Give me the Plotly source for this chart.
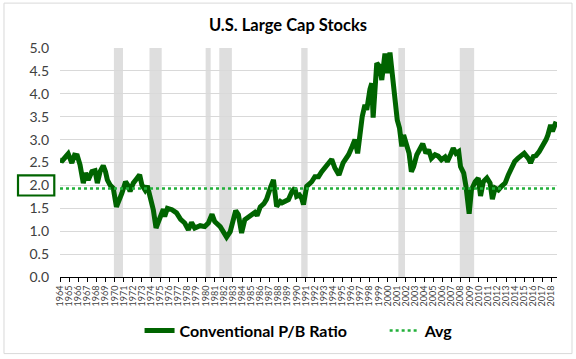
import plotly.graph_objects as go

# ---------------- data ----------------
years = [1964.0, 1964.25, 1964.6, 1964.9, 1965.3, 1965.6, 1965.9, 1966.2, 1966.56, 1966.8,
         1967.1, 1967.5, 1967.85, 1968.1, 1968.4, 1968.75, 1969.0, 1969.2, 1969.5, 1969.85,
         1970.2, 1970.5, 1970.8, 1971.2, 1971.5, 1971.7, 1972.05, 1972.4, 1972.75, 1973.0,
         1973.35, 1973.6, 1973.9, 1974.25, 1974.55, 1974.8, 1975.0, 1975.35, 1975.5, 1975.8,
         1976.3, 1976.8, 1977.25, 1977.7, 1978.1, 1978.45, 1978.8, 1979.4, 1979.9, 1980.3,
         1980.7, 1981.0, 1981.6, 1981.9, 1982.3, 1982.7, 1983.0, 1983.3, 1983.6, 1983.95,
         1984.3, 1984.7, 1985.05, 1985.4, 1985.65, 1986.0, 1986.4, 1986.7, 1987.1, 1987.45,
         1987.8, 1988.2, 1988.4, 1989.1, 1989.5, 1989.8, 1990.0, 1990.3, 1990.55, 1990.75,
         1991.1, 1991.65, 1992.0, 1992.4, 1992.75, 1993.3, 1993.85, 1994.2, 1994.65, 1995.1,
         1995.7, 1996.1, 1996.4, 1996.7, 1996.95, 1997.2, 1997.5, 1997.7, 1998.05, 1998.25,
         1998.4, 1998.6, 1998.8, 1999.1, 1999.35, 1999.7, 1999.95, 2000.25, 2000.5, 2000.8,
         2001.05, 2001.3, 2001.55, 2001.75, 2002.05, 2002.35, 2002.6, 2002.85, 2003.2, 2003.55,
         2003.85, 2004.2, 2004.5, 2004.8, 2005.2, 2005.55, 2005.9, 2006.3, 2006.55, 2006.9,
         2007.2, 2007.5, 2007.8, 2008.0, 2008.35, 2008.6, 2008.75, 2008.95, 2009.2, 2009.6,
         2009.95, 2010.2, 2010.5, 2010.9, 2011.25, 2011.5, 2011.8, 2012.15, 2012.5, 2012.9,
         2013.25, 2013.6, 2013.95, 2014.3, 2014.7, 2015.0, 2015.45, 2015.7, 2016.0, 2016.3,
         2016.65, 2017.0, 2017.4, 2017.6, 2017.9, 2018.1, 2018.5]

pb_ratio = [2.55, 2.54, 2.62, 2.69, 2.49, 2.66, 2.65, 2.45, 2.05, 2.27,
            2.12, 2.30, 2.32, 2.05, 2.30, 2.43, 2.30, 2.12, 2.01, 1.94,
            1.53, 1.67, 1.83, 2.08, 1.99, 1.87, 2.05, 2.14, 2.23, 2.01,
            1.90, 1.99, 1.76, 1.47, 1.07, 1.22, 1.34, 1.48, 1.32, 1.50,
            1.47, 1.40, 1.26, 1.18, 1.03, 1.19, 1.07, 1.12, 1.10, 1.18,
            1.37, 1.21, 1.10, 0.99, 0.87, 0.99, 1.25, 1.45, 1.36, 0.96,
            1.25, 1.31, 1.34, 1.41, 1.34, 1.53, 1.60, 1.70, 1.94, 2.12,
            1.54, 1.65, 1.62, 1.69, 1.87, 1.94, 1.76, 1.79, 1.72, 1.58,
            1.98, 2.08, 2.19, 2.19, 2.30, 2.43, 2.57, 2.38, 2.23, 2.49,
            2.67, 2.85, 3.00, 2.70, 3.14, 3.50, 3.76, 3.65, 4.10, 4.23,
            3.48, 4.30, 4.67, 4.60, 4.30, 4.88, 4.45, 4.90, 4.37, 3.87,
            3.43, 3.25, 2.85, 3.10, 2.92, 2.70, 2.30, 2.41, 2.67, 2.78,
            2.91, 2.70, 2.78, 2.59, 2.67, 2.64, 2.56, 2.62, 2.52, 2.67,
            2.81, 2.70, 2.74, 2.41, 2.27, 1.98, 1.65, 1.38, 1.90, 2.08,
            2.16, 1.77, 2.08, 2.16, 2.05, 1.70, 1.94, 1.90, 1.98, 2.05,
            2.23, 2.40, 2.52, 2.59, 2.67, 2.70, 2.59, 2.49, 2.63, 2.65,
            2.74, 2.85, 3.00, 3.10, 3.32, 3.18, 3.39]

avg_value = 1.93
avg_span = [1964.0, 2018.6]

recession_start = [1969.92, 1973.83, 1980.0, 1981.5, 1990.5, 2001.17, 2007.92]
recession_end = [1970.92, 1975.17, 1980.55, 1982.88, 1991.2, 2001.9, 2009.5]

tick_years = [1964, 1965, 1966, 1967, 1968, 1969, 1970, 1971, 1972, 1973, 1974, 1975,
              1976, 1977, 1978, 1979, 1980, 1981, 1982, 1983, 1984, 1985, 1986, 1987,
              1988, 1989, 1990, 1991, 1992, 1993, 1994, 1995, 1996, 1997, 1998, 1999,
              2000, 2001, 2002, 2003, 2004, 2005, 2006, 2007, 2008, 2009, 2010, 2011,
              2012, 2013, 2014, 2015, 2016, 2017, 2018]
tick_labels = [str(y) for y in tick_years]

y_ticks = [0.0, 0.5, 1.0, 1.5, 2.0, 2.5, 3.0, 3.5, 4.0, 4.5, 5.0]
y_tick_labels = ["0.0", "0.5", "1.0", "1.5", "2.0", "2.5", "3.0", "3.5", "4.0", "4.5", "5.0"]

series_names = ["Conventional P/B Ratio", "Avg"]

# ---------------- figure ----------------
FONT = "Lato, 'Open Sans', Arial, sans-serif"
DARK_GREEN = "#006400"
AVG_GREEN = "#22B03A"
LEGEND_PAD = "\u00a0" * 8  # extra spacing between legend entries

fig = go.Figure()

fig.add_trace(go.Scatter(
    x=years, y=pb_ratio, mode="lines", name="<b>" + series_names[0] + "</b>" + LEGEND_PAD,
    line=dict(color=DARK_GREEN, width=5), hoverinfo="skip"))

fig.add_trace(go.Scatter(
    x=avg_span, y=[avg_value, avg_value], mode="lines", name="<b>" + series_names[1] + "</b>",
    line=dict(color=AVG_GREEN, width=2.5, dash="dot"), hoverinfo="skip"))

shapes = []
for s, e in zip(recession_start, recession_end):
    shapes.append(dict(type="rect", xref="x", yref="y", x0=s, x1=e, y0=0, y1=5,
                       fillcolor="#DEDEDE", line=dict(width=0), layer="below"))

# box around the "2.0" tick label
shapes.append(dict(type="rect", xref="paper", yref="y",
                   x0=-0.0845, x1=-0.0115, y0=1.78, y1=2.22,
                   line=dict(color=DARK_GREEN, width=2.2), fillcolor="rgba(0,0,0,0)"))
# chart outer border
shapes.append(dict(type="rect", xref="paper", yref="paper",
                   x0=-0.1127, x1=1.0302, y0=-0.3345, y1=1.196,
                   line=dict(color="#D9D9D9", width=1), fillcolor="rgba(0,0,0,0)"))

fig.update_layout(
    width=576, height=359,
    margin=dict(l=60, r=19, t=48, b=82),
    paper_bgcolor="white", plot_bgcolor="white",
    font=dict(family=FONT, color="#404040"),
    title=dict(text="<b>U.S. Large Cap Stocks</b>", x=0.5, xref="container", xanchor="center",
               y=1 - 25 / 359, yref="container", yanchor="middle",
               font=dict(size=16.5, color="#000000", family=FONT)),
    showlegend=True,
    legend=dict(orientation="h", x=0.481, xanchor="center", y=-0.234, yanchor="middle",
                font=dict(size=16, color="#000000", family=FONT),
                bgcolor="rgba(0,0,0,0)", traceorder="normal"),
    shapes=shapes,
)

fig.update_xaxes(
    range=[1964.0, 2018.6], tickmode="array", tickvals=tick_years, ticktext=tick_labels,
    tickangle=-90, tickfont=dict(size=9, color="#404040", family=FONT),
    showgrid=False, zeroline=False, showline=True, linecolor="#000000", linewidth=1,
    ticks="outside", ticklen=4, tickcolor="#000000", fixedrange=True)

fig.update_yaxes(
    range=[0, 5], tickmode="array", tickvals=y_ticks, ticktext=y_tick_labels,
    tickfont=dict(size=14, color="#404040", family=FONT),
    showgrid=True, gridcolor="#D9D9D9", gridwidth=1, zeroline=False, showline=False,
    ticks="", ticklabelstandoff=10, fixedrange=True)

fig.write_html("out.html", config={"displayModeBar": False},
               post_script="document.body.style.margin='0';")
